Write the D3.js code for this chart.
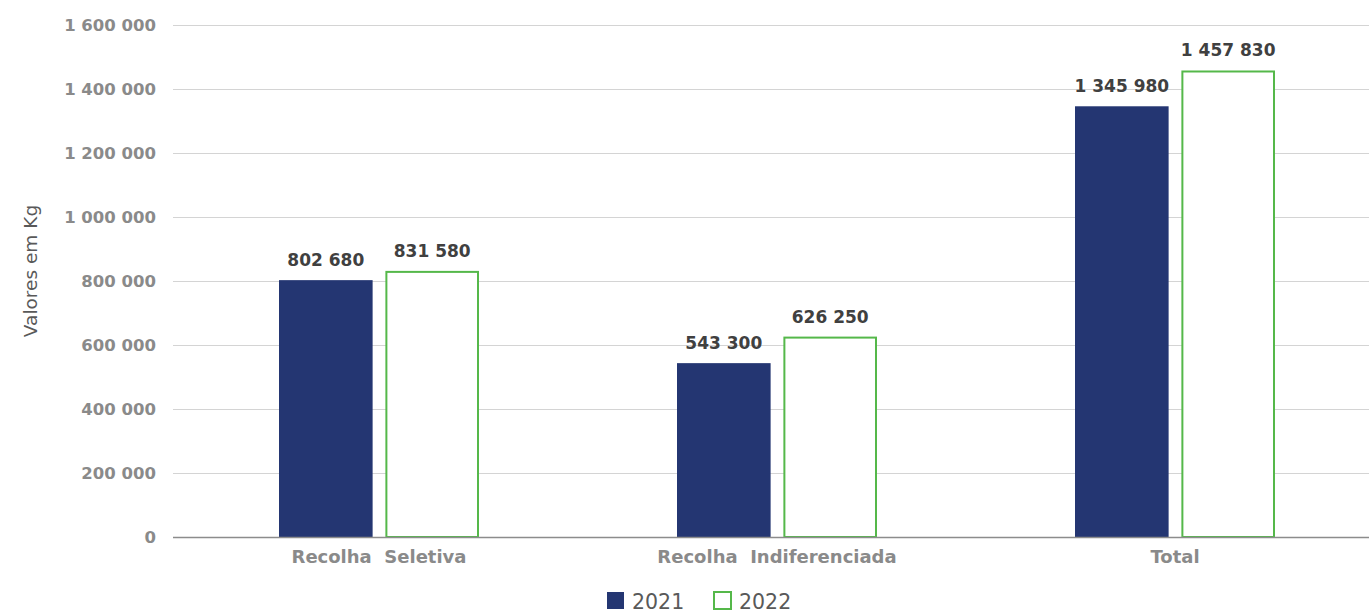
<!DOCTYPE html>
<html>
<head>
<meta charset="utf-8">
<script src="https://cdn.jsdelivr.net/npm/d3@7"></script>
<style>
  html, body { margin: 0; padding: 0; background: #fff; }
  svg { display: block; }
</style>
</head>
<body>
<svg id="chart" width="1369" height="614"></svg>
<script>
// Waste collection by type, in kilograms
const categories = ["Recolha  Seletiva", "Recolha  Indiferenciada", "Total"];
const years = ["2021", "2022"];
const values2021 = [802680, 543300, 1345980];
const values2022 = [831580, 626250, 1457830];
const yTicks = [0, 200000, 400000, 600000, 800000, 1000000, 1200000, 1400000, 1600000];

const W = 1369, H = 614;
const svg = d3.select("#chart");
const font = "'DejaVu Sans', 'Open Sans', sans-serif";

const y = d3.scaleLinear().domain([0, 1600000]).range([537, 25]);
const x = d3.scaleBand().domain(categories).range([180, 1374]);
const xs = d3.scaleBand().domain(years).range([99, 299]).paddingInner(0.12);

const fmt = v => d3.format(",")(v).replace(/,/g, " ");

// horizontal gridlines
svg.append("g").selectAll("line").data(yTicks.filter(d => d > 0)).join("line")
  .attr("x1", 173).attr("x2", 1369)
  .attr("y1", d => y(d) + 0.5).attr("y2", d => y(d) + 0.5)
  .attr("stroke", "#d4d4d4").attr("stroke-width", 1.2);

// y axis labels
const yAxis = d3.axisLeft(y).tickValues(yTicks).tickFormat(fmt).tickSize(0).tickPadding(0);
const gy = svg.append("g").attr("transform", "translate(156,0)").call(yAxis);
gy.select(".domain").remove();
gy.selectAll("text")
  .attr("font-family", font).attr("font-weight", 700).attr("font-size", 16.5)
  .attr("fill", "#8a8a8a");

// y axis title
svg.append("text")
  .attr("transform", "translate(37,271) rotate(-90)")
  .attr("text-anchor", "middle")
  .attr("font-family", font).attr("font-size", 18.5).attr("fill", "#595959")
  .text("Valores em Kg");

const series = [
  { year: "2021", vals: values2021 },
  { year: "2022", vals: values2022 }
];

const bars = [];
series.forEach(s => s.vals.forEach((v, i) => bars.push({ cat: categories[i], year: s.year, v })));

// bars
svg.append("g").selectAll("rect").data(bars).join("rect")
  .attr("x", d => x(d.cat) + xs(d.year) + (d.year === "2022" ? 1 : 0))
  .attr("y", d => y(d.v) + (d.year === "2022" ? 1 : 0))
  .attr("width", d => xs.bandwidth() - (d.year === "2022" ? 2 : 0))
  .attr("height", d => y(0) - y(d.v) - (d.year === "2022" ? 1 : 0))
  .attr("fill", d => d.year === "2021" ? "#243672" : "#ffffff")
  .attr("stroke", d => d.year === "2021" ? "none" : "#55b84a")
  .attr("stroke-width", 2);

// value labels
svg.append("g").selectAll("text").data(bars).join("text")
  .attr("x", d => x(d.cat) + xs(d.year) + xs.bandwidth() / 2)
  .attr("y", d => y(d.v) - 14)
  .attr("text-anchor", "middle")
  .attr("font-family", font).attr("font-weight", 700).attr("font-size", 17)
  .attr("fill", "#404040")
  .text(d => fmt(d.v));

// baseline
svg.append("line")
  .attr("x1", 173).attr("x2", 1369).attr("y1", y(0) + 0.5).attr("y2", y(0) + 0.5)
  .attr("stroke", "#8c8c8c").attr("stroke-width", 1.5);

// category labels
const xAxis = d3.axisBottom(x).tickSize(0).tickPadding(0);
const gx = svg.append("g").attr("transform", `translate(0,${y(0) + 12})`).call(xAxis);
gx.select(".domain").remove();
gx.selectAll("text")
  .attr("font-family", font).attr("font-weight", 700).attr("font-size", 18)
  .attr("fill", "#8a8a8a").attr("dy", "0.8em")
  .style("white-space", "pre");

// legend
const legend = svg.append("g");
const legendItems = [
  { label: years[0], fill: "#243672", stroke: "none", x: 607 },
  { label: years[1], fill: "#ffffff", stroke: "#55b84a", x: 714 }
];
legendItems.forEach(it => {
  legend.append("rect")
    .attr("x", it.x).attr("y", 592).attr("width", 17).attr("height", 17)
    .attr("fill", it.fill).attr("stroke", it.stroke).attr("stroke-width", 2);
  legend.append("text")
    .attr("x", it.x + 25).attr("y", 609)
    .attr("font-family", font).attr("font-size", 20.5).attr("fill", "#595959")
    .text(it.label);
});
</script>
</body>
</html>
